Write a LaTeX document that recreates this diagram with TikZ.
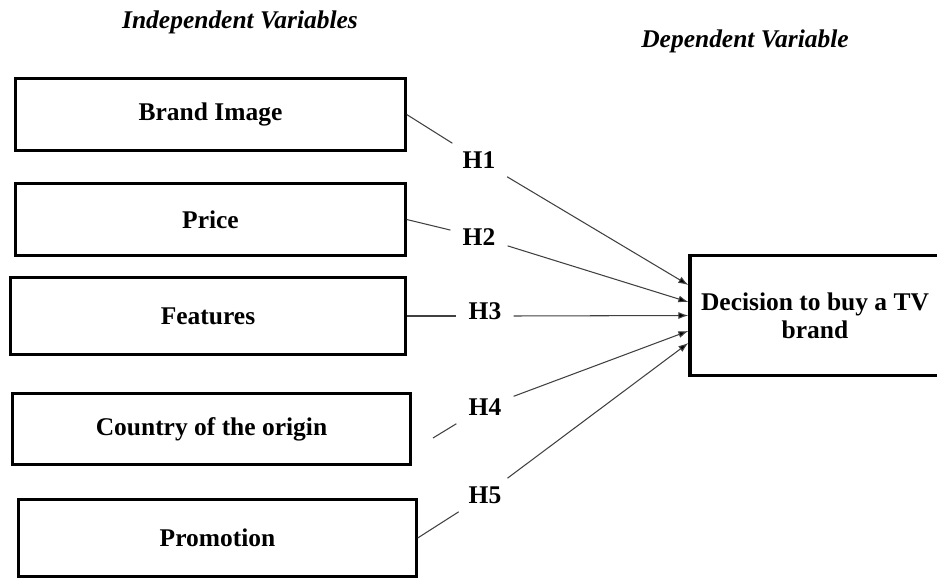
\documentclass[tikz,border=0pt]{standalone}
\usepackage{fontspec}
\setmainfont{Liberation Serif}
\usetikzlibrary{arrows.meta}

\begin{document}
\begin{tikzpicture}[x=0.02cm,y=-0.02cm,
		every node/.style={font=\bfseries\fontsize{14.5}{16}\selectfont},
		varbox/.style={draw,line width=1.4pt,minimum width=7.8cm,minimum height=1.44cm,inner sep=0pt},
		hyp/.style={inner xsep=0.24cm,inner ysep=0.16cm},
		link/.style={draw=black!75,line width=0.6pt},
		arr/.style={link,-{Latex[length=0.2cm,width=0.14cm,fill=black]}}]
		
		\useasboundingbox (0,0) rectangle (937,580);
		\clip (0,0) rectangle (937,580);
		
		\node[font=\bfseries\itshape\fontsize{14.5}{16}\selectfont] (indep) at (240,22) {Independent Variables};
		\node[font=\bfseries\itshape\fontsize{14.5}{16}\selectfont] (dep) at (745,41) {Dependent Variable};
		
		\node[varbox] (brand) at (210.5,114.5) {Brand Image};
		\node[varbox] (price) at (210.5,219.5) {Price};
		\node[varbox,minimum width=7.9cm,minimum height=1.54cm] (features) at (208,316) {Features};
		\node[varbox,minimum width=7.96cm,minimum height=1.42cm] (country) at (211.5,429) {Country of the origin};
		\node[varbox,minimum width=7.96cm,minimum height=1.54cm] (promotion) at (217.5,538) {Promotion};
		
		\node[draw,line width=1.9pt,minimum width=5cm,minimum height=2.4cm,align=center] (decision) at (815,315.5) {Decision to buy a TV\\brand};
		
		\node[hyp] (h1) at (479,160) {H1};
		\node[hyp] (h2) at (479,237) {H2};
		\node[hyp] (h3) at (485,311) {H3};
		\node[hyp] (h4) at (485,407) {H4};
		\node[hyp] (h5) at (485,495) {H5};
		
		\coordinate (country_p) at (433,438);
		
		\draw[link] (brand.east) -- (h1) ;
		\draw[link] (price.east) -- (h2) ;
		\draw[link] (features.east) -- (h3.west |- features.east) ;
		\draw[link] (country_p) -- (h4.south west) ;
		\draw[link] (promotion.east) -- (h5) ;
		
		\draw[arr] (h1) -- ([yshift=0.61cm]decision.west) ;
		\draw[arr] (h2) -- ([yshift=0.27cm]decision.west) ;
		\draw[arr] (h3.east |- features.east) -- (decision.west) ;
		\draw[arr] (h4) -- ([yshift=-0.31cm]decision.west) ;
		\draw[arr] (h5) -- ([yshift=-0.55cm]decision.west) ;
	\end{tikzpicture}
\end{document}
